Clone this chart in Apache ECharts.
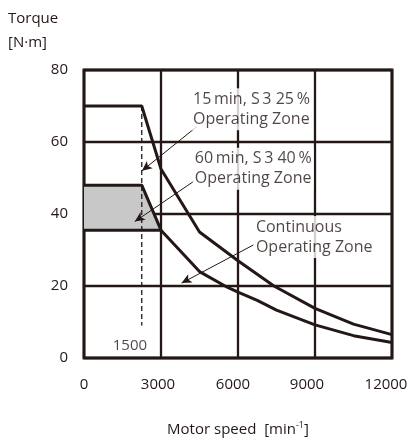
<!DOCTYPE html>
<html>
<head>
<meta charset="utf-8">
<script src="https://cdn.jsdelivr.net/npm/echarts@6/dist/echarts.min.js"></script>
<style>
  html, body { margin: 0; padding: 0; background: #ffffff; }
  #chart { width: 410px; height: 444px; }
</style>
</head>
<body>
<div id="chart"></div>
<script>
// Axis ticks
const speedTicks = [0, 3000, 6000, 9000, 12000];
const torqueTicks = [0, 20, 40, 60, 80];

// Torque limit curves, [motor speed, torque]
const zone15min = [[0, 70], [2250, 70], [3000, 52.5], [4500, 35], [6000, 27], [7400, 20], [9000, 13.8], [10500, 9.4], [12000, 6.5]];
const zone60min = [[0, 48], [2250, 48], [3000, 35.5]];
const zoneContinuous = [[0, 35.5], [3000, 35.5], [4500, 24], [5600, 19.6], [6000, 18.3], [6750, 16], [7500, 13.3], [9000, 9.2], [10500, 6.2], [12000, 4.3]];

// Base speed marker
const baseSpeedLine = [[2250, 70], [2250, 9]];
const baseSpeedText = '1500';

// Zone captions
const zoneTexts = [
  '15\u2009min, S\u20093 25\u2009%\nOperating Zone',
  '60\u2009min, S\u20093 40\u2009%\nOperating Zone',
  'Continuous\nOperating Zone'
];

const INK = '#231815';
const FONT = '"Open Sans", "Noto Sans", sans-serif';

const chart = echarts.init(document.getElementById('chart'), null, { renderer: 'canvas' });

const captionLabel = {
  show: true,
  position: 'right',
  distance: 0,
  align: 'left',
  verticalAlign: 'middle',
  color: INK,
  fontFamily: FONT,
  fontSize: 16,
  lineHeight: 20,
  backgroundColor: '#ffffff',
  padding: [1, 2, 1, 2]
};

function arrow(from, to) {
  return [{ coord: from, symbol: 'none' }, { coord: to, symbol: 'arrow' }];
}

const tickShift = [0, 6, 10, 16, 12];

chart.setOption({
  animation: false,
  backgroundColor: '#ffffff',
  textStyle: { fontFamily: FONT, color: INK },
  grid: {
    left: 84, top: 70, width: 308, height: 288,
    show: true, borderColor: INK, borderWidth: 3,
    backgroundColor: 'transparent',
    containLabel: false,
    outerBoundsMode: 'none'
  },
  graphic: [
    {
      type: 'text', left: 8, top: 7,
      style: { text: 'Torque\n[N·m]', fill: INK, font: '15px ' + FONT, lineHeight: 24 }
    }
  ],
  xAxis: {
    type: 'value', min: 0, max: 12000, interval: 3000,
    axisLine: { show: false }, axisTick: { show: false },
    splitLine: { show: true, lineStyle: { color: INK, width: 2.3 } },
    axisLabel: {
      margin: 19, color: INK, fontFamily: FONT, fontSize: 15,
      formatter: function (v) {
        const i = speedTicks.indexOf(v);
        return '{t' + i + '|' + v + '}';
      },
      rich: (function () {
        const r = {};
        tickShift.forEach(function (s, i) {
          r['t' + i] = { fontSize: 15, fontFamily: FONT, color: INK, padding: [0, s, 0, 0] };
        });
        return r;
      })()
    },
    name: '{a|Motor speed  [min}{s|-1}{a|]}',
    nameLocation: 'middle', nameGap: 63,
    nameTextStyle: {
      rich: {
        a: { fontSize: 15, fontFamily: FONT, color: INK, lineHeight: 18 },
        s: { fontSize: 9, fontFamily: FONT, color: INK, verticalAlign: 'top', lineHeight: 18 }
      }
    }
  },
  yAxis: {
    type: 'value', min: 0, max: 80, interval: 20,
    axisLine: { show: false }, axisTick: { show: false },
    splitLine: { show: true, lineStyle: { color: INK, width: 2.3 } },
    axisLabel: { margin: 16, color: INK, fontFamily: FONT, fontSize: 15 }
  },
  series: [
    {
      name: '60 min, S3 40%', type: 'line', data: zone60min,
      showSymbol: false, z: 3,
      lineStyle: { color: INK, width: 3 },
      areaStyle: { color: '#c8c8c8', opacity: 1, origin: 35.5 }
    },
    {
      name: 'Base speed', type: 'line', data: baseSpeedLine,
      showSymbol: false, z: 4,
      lineStyle: { color: INK, width: 1.3, type: [5, 3] }
    },
    {
      name: '15 min, S3 25%', type: 'line', data: zone15min,
      showSymbol: false, z: 5,
      lineStyle: { color: INK, width: 3 }
    },
    {
      name: 'Continuous', type: 'line', data: zoneContinuous,
      showSymbol: false, z: 5,
      lineStyle: { color: INK, width: 3 }
    },
    {
      name: 'Pointers', type: 'line', data: [], z: 6,
      markLine: {
        silent: true, animation: false,
        symbolSize: [7, 10],
        label: { show: false },
        lineStyle: { color: INK, width: 1, type: 'solid' },
        emphasis: { disabled: true },
        data: [
          arrow([4400, 64.3], [2260, 52]),
          arrow([4260, 49], [1980, 37.9]),
          arrow([6600, 31.4], [3800, 20.8])
        ]
      }
    },
    {
      name: 'Captions', type: 'scatter', symbolSize: 0, z: 7,
      silent: true,
      data: [
        { value: [4170, 69.1], label: Object.assign({}, captionLabel, { formatter: zoneTexts[0] }) },
        { value: [4240, 52.6], label: Object.assign({}, captionLabel, { formatter: zoneTexts[1] }) },
        { value: [6620, 33.6], label: Object.assign({}, captionLabel, { formatter: zoneTexts[2] }) },
        { value: [1790, 3.3], label: { show: true, position: 'inside', formatter: baseSpeedText, color: INK, fontFamily: FONT, fontSize: 15 } }
      ]
    }
  ]
});
</script>
</body>
</html>
